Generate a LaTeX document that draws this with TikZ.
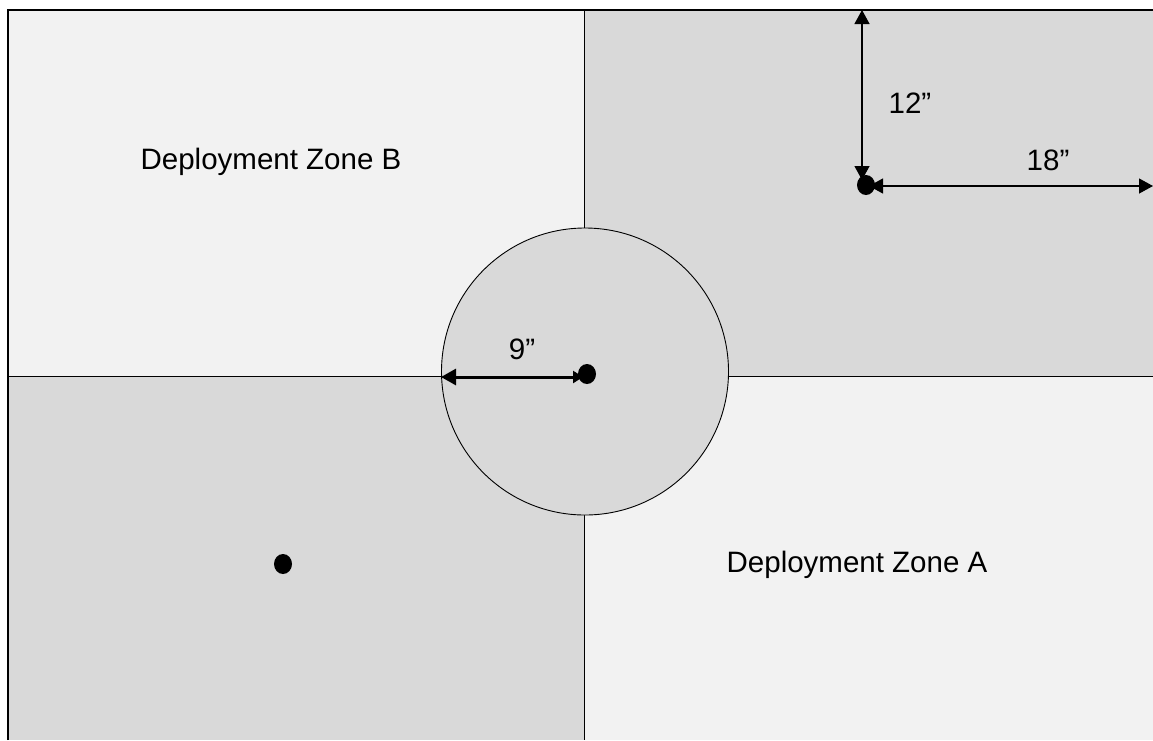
\documentclass[tikz,border=0pt]{standalone}
\usepackage{fontspec}
\setmainfont{Liberation Sans}
\usetikzlibrary{arrows.meta,shapes.geometric}
\definecolor{lightq}{HTML}{F2F2F2}
\definecolor{darkq}{HTML}{D9D9D9}
\tikzset{
  dimline/.style={line width=1.2pt,{Triangle[length=14pt,width=15pt]}-{Triangle[length=14pt,width=15pt]}},
  radline/.style={line width=3pt,{Triangle[length=15pt,width=16pt]}-{Triangle[length=10pt,width=12pt]}},
  blob/.style={ellipse,fill=black,minimum width=18pt,minimum height=20pt,inner sep=0pt},
  lbl/.style={font=\fontsize{29.5}{34}\selectfont,inner sep=0pt}
}
\begin{document}
\begin{tikzpicture}[x=1pt,y=-1pt]
\useasboundingbox (0,0) rectangle (1153,740);
\fill[white] (0,0) rectangle (1153,740);
% quadrants
\fill[lightq] (8,10) rectangle (584,376);
\fill[darkq] (584,10) rectangle (1153,376);
\fill[darkq] (8,376) rectangle (584,740);
\fill[lightq] (584,376) rectangle (1153,740);
\draw[line width=1pt] (584,10) -- (584,740);
\draw[line width=1pt] (8,376) -- (1153,376);
% frame
\draw[line width=1.3pt] (8,740) -- (8,10) -- (1153,10);
% circle
\draw[fill=darkq,line width=0.9pt] (585,371.5) circle[radius=143.5];
% labels
\node[lbl] (zb) at (271,162) {Deployment Zone B};
\node[lbl] (za) at (857,565) {Deployment Zone A};
% dots
\node[blob] (d1) at (866,185) {};
\node[blob] (d2) at (587,374) {};
\node[blob] (d3) at (283,564) {};
% dimension arrows
\coordinate (top) at (862,10);
\coordinate (tip12) at (862,180);
\coordinate (s18) at (869,186);
\coordinate (e18) at (1153,186);
\coordinate (l9) at (441,377);
\coordinate (r9) at (583,377);
\draw[dimline] (top) -- (tip12);
\draw[dimline] (s18) -- (e18);
\draw[radline] (l9) -- (r9);
\node[lbl] (t12) at (910,103) {12”};
\node[lbl] (t18) at (1048,160) {18”};
\node[lbl] (t9) at (522,349) {9”};
\end{tikzpicture}
\end{document}
